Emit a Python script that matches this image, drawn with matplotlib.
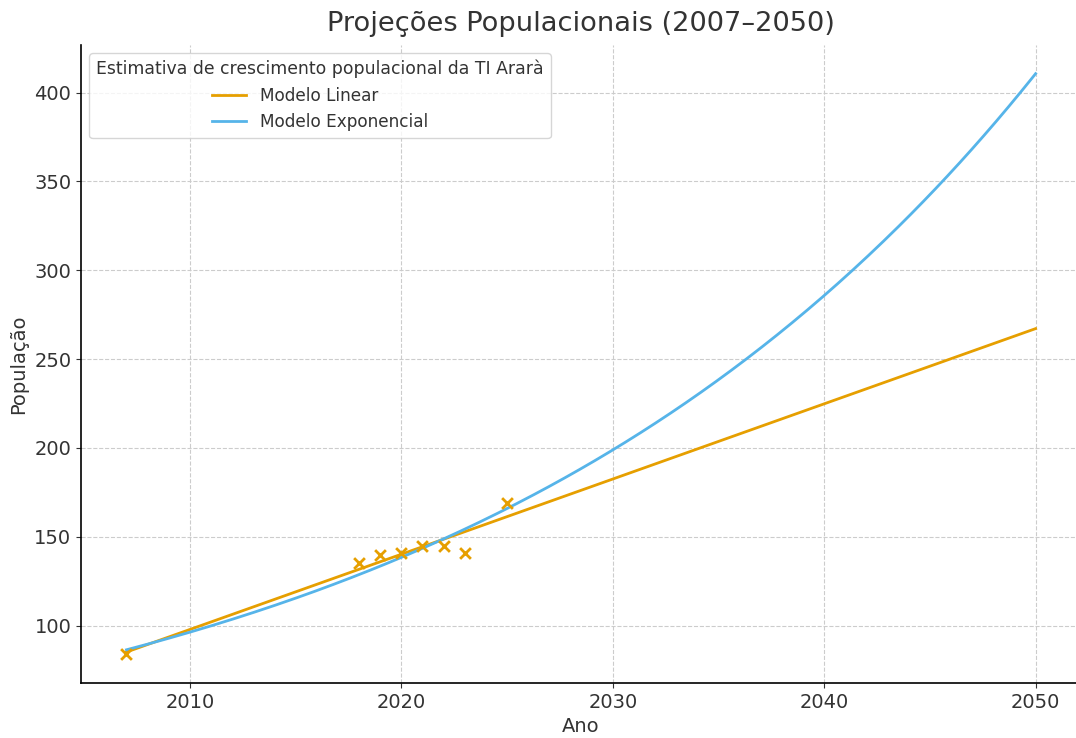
import numpy as np
import matplotlib
matplotlib.use("Agg")
import matplotlib.pyplot as plt

# observed population (TI Arara)
anos = [2007, 2018, 2019, 2020, 2021, 2022, 2023, 2025]
populacao = [84, 135, 140, 141, 145, 145, 141, 169]

ano_inicio = 2007
ano_fim = 2050

cor_linear = "#E69F00"
cor_exp = "#56B4E9"

# fit models on the observed points
a_lin, b_lin = np.polyfit(anos, populacao, 1)
a_exp, b_exp = np.polyfit(anos, np.log(populacao), 1)

x_proj = np.linspace(ano_inicio, ano_fim, 300)
y_lin = a_lin * x_proj + b_lin
y_exp = np.exp(a_exp * x_proj + b_exp)

plt.rcParams['text.color'] = '#333333'
plt.rcParams['axes.labelcolor'] = '#333333'
plt.rcParams['xtick.color'] = '#333333'
plt.rcParams['ytick.color'] = '#333333'

fig = plt.figure(figsize=(10.76, 7.38), dpi=100)
ax = fig.add_axes([0.0753, 0.0745, 0.9294, 0.865])

ax.plot(x_proj, y_lin, color=cor_linear, lw=2, label='Modelo Linear')
ax.plot(x_proj, y_exp, color=cor_exp, lw=2, label='Modelo Exponencial')
ax.scatter(anos, populacao, marker='x', color=cor_linear, s=60, linewidths=2, zorder=3)

ax.set_title('Projeções Populacionais (2007–2050)', fontsize=19.6, pad=10)
ax.set_xlabel('Ano', fontsize=14)
ax.set_ylabel('População', fontsize=14)
ax.tick_params(labelsize=14)
ax.set_xticks([2010, 2020, 2030, 2040, 2050])

ax.grid(True, linestyle='--', color='#cccccc', linewidth=0.8)
ax.set_axisbelow(True)
for s in ['top', 'right']:
    ax.spines[s].set_visible(False)
ax.spines['left'].set_linewidth(1.2)
ax.spines['bottom'].set_linewidth(1.2)

ax.legend(title='Estimativa de crescimento populacional da TI Ararà', loc='upper left',
          fontsize=12.2, title_fontsize=12.4)

fig.savefig('out.png', dpi=100)
